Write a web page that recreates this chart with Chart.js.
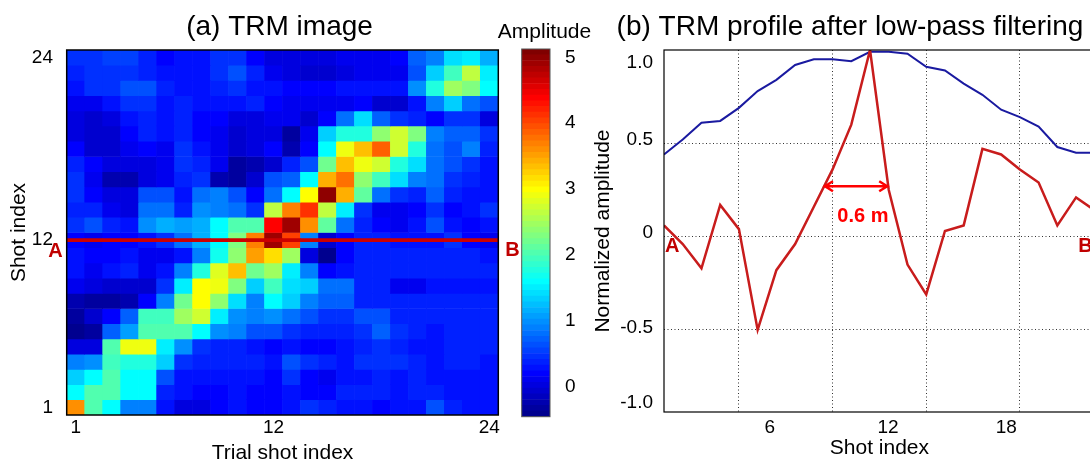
<!DOCTYPE html>
<html>
<head>
<meta charset="utf-8">
<script src="https://cdn.jsdelivr.net/npm/chart.js@4.4.1/dist/chart.umd.min.js"></script>
<style>
  html, body { margin: 0; padding: 0; background: #fff; overflow: hidden; }
  body { width: 1090px; height: 464px; position: relative; }
  canvas { position: absolute; top: 0; }
</style>
</head>
<body>
<canvas id="trm" style="left:0px" width="520" height="464"></canvas>
<canvas id="cbar" style="left:480px" width="120" height="464"></canvas>
<canvas id="profile" style="left:560px" width="600" height="464"></canvas>
<script>
// ---- (a) TRM image: trial shot (columns) x shot index (rows) ----
const trialShots = [1, 2, 3, 4, 5, 6, 7, 8, 9, 10, 11, 12, 13, 14, 15, 16, 17, 18, 19, 20, 21, 22, 23, 24];
const shotRows = [24, 23, 22, 21, 20, 19, 18, 17, 16, 15, 14, 13, 12, 11, 10, 9, 8, 7, 6, 5, 4, 3, 2, 1];
const trmTicks = [1, 12, 24];
const cutRow = 12;

// amplitude, one row per shot index, top (24) to bottom (1)
const trmImage = [
  [0.5, 0.5, 0.55, 0.55, 0.4, 0.2, 0.3, 0.3, 0.5, 0.5, 0.2, 0.0, 0.05, 0.0, 0.05, 0.1, 0.1, 0.15, 0.2, 0.7, 0.9, 1.4, 1.5, 1.2],
  [0.4, 0.5, 0.5, 0.45, 0.35, 0.3, 0.3, 0.3, 0.5, 0.6, 0.4, 0.1, 0.0, -0.05, -0.05, 0.05, 0.1, 0.1, 0.15, 0.6, 1.3, 1.9, 2.6, 1.5],
  [0.3, 0.45, 0.5, 0.6, 0.6, 0.4, 0.3, 0.3, 0.4, 0.45, 0.3, 0.3, 0.2, 0.2, 0.2, 0.25, 0.3, 0.3, 0.3, 1.0, 1.8, 2.5, 2.3, 1.6],
  [0.1, 0.15, 0.3, 0.45, 0.5, 0.3, 0.35, 0.3, 0.3, 0.3, 0.4, 0.2, 0.1, 0.1, 0.15, 0.15, 0.2, -0.05, -0.05, 0.3, 0.9, 1.3, 0.8, 0.6],
  [0.0, -0.05, 0.0, 0.3, 0.4, 0.3, 0.35, 0.2, 0.2, 0.05, 0.0, 0.1, 0.1, -0.1, 0.2, 0.8, 1.4, 0.7, 0.5, 0.4, 0.2, 0.5, 0.5, 0.0],
  [0.0, -0.1, -0.1, 0.2, 0.4, 0.3, 0.4, 0.2, 0.1, -0.1, 0.0, 0.0, -0.3, 0.1, 1.3, 1.8, 1.8, 2.4, 2.7, 2.3, 0.9, 0.7, 0.7, 0.5],
  [0.2, -0.1, -0.1, 0.1, 0.2, 0.1, 0.5, 0.3, 0.1, -0.1, 0.0, 0.2, -0.2, 0.2, 1.6, 2.9, 3.3, 3.9, 2.7, 1.8, 0.8, 0.6, 0.9, 0.4],
  [0.4, 0.2, 0.0, 0.0, 0.0, 0.1, 0.5, 0.4, 0.1, -0.3, -0.2, -0.1, 0.4, 0.6, 2.2, 3.3, 2.9, 2.7, 1.8, 1.4, 0.8, 0.6, 0.5, 0.3],
  [0.5, 0.1, -0.2, -0.2, 0.0, 0.1, 0.4, 0.5, -0.2, -0.3, -0.1, 0.6, 0.7, 1.6, 3.4, 3.8, 2.4, 1.9, 1.4, 0.9, 0.8, 0.5, 0.4, 0.3],
  [0.5, 0.2, 0.0, 0.0, 0.6, 0.6, 0.3, 0.8, 0.9, 0.6, 0.2, 0.8, 1.6, 3.0, 5.0, 3.4, 2.1, 0.8, 0.5, 0.4, 0.7, 0.4, 0.3, 0.3],
  [0.4, 0.4, 0.1, 0.0, 0.8, 0.8, 0.4, 1.0, 0.9, 0.8, 0.5, 2.6, 3.7, 4.1, 2.6, 1.5, 0.5, 0.1, 0.1, 0.2, 0.5, 0.2, 0.3, 0.5],
  [0.5, 0.6, 0.4, 0.3, 1.0, 1.2, 1.1, 1.2, 1.6, 2.0, 2.0, 4.4, 4.9, 3.6, 2.1, 0.8, 0.4, 0.2, 0.1, 0.3, 0.6, 0.3, 0.2, 0.3],
  [0.2, 0.1, 0.2, 0.2, 0.3, 0.5, 0.8, 1.2, 1.6, 2.3, 3.7, 4.9, 4.0, 0.9, -0.1, 0.2, 0.4, 0.4, 0.3, 0.3, 0.3, 0.5, 0.2, 0.1],
  [0.3, 0.2, 0.2, 0.3, 0.1, 0.1, 0.3, 0.9, 1.7, 2.4, 3.5, 3.2, 2.5, 0.0, -0.4, 0.2, 0.4, 0.4, 0.4, 0.4, 0.4, 0.4, 0.4, 0.25],
  [0.3, 0.1, 0.3, 0.4, 0.1, 0.3, 0.9, 1.8, 2.8, 3.3, 2.2, 2.5, 1.5, 0.9, 0.2, 0.3, 0.4, 0.4, 0.4, 0.4, 0.4, 0.4, 0.4, 0.35],
  [0.1, 0.0, -0.1, -0.1, -0.1, 0.5, 1.5, 3.0, 2.9, 2.3, 1.3, 1.9, 1.4, 1.3, 0.8, 0.8, 0.4, 0.4, 0.15, 0.15, 0.3, 0.3, 0.3, 0.3],
  [-0.2, -0.3, -0.3, -0.2, 0.2, 0.9, 2.2, 3.0, 2.4, 1.4, 0.9, 1.6, 1.3, 0.9, 0.7, 0.7, 0.4, 0.4, 0.4, 0.4, 0.35, 0.35, 0.35, 0.35],
  [-0.3, -0.1, 0.2, 0.7, 1.9, 1.9, 2.5, 2.7, 1.5, 1.0, 0.9, 1.0, 0.8, 0.6, 0.5, 0.5, 0.6, 0.6, 0.4, 0.4, 0.35, 0.35, 0.35, 0.35],
  [-0.4, -0.3, 0.7, 1.1, 2.0, 2.0, 2.0, 1.6, 1.0, 0.9, 0.6, 0.6, 0.5, 0.4, 0.4, 0.4, 0.5, 0.7, 0.45, 0.4, 0.3, 0.4, 0.4, 0.35],
  [0.0, 0.0, 2.0, 2.9, 2.9, 1.5, 1.0, 0.45, 0.4, 0.4, 0.3, 0.2, 0.3, 0.2, 0.2, 0.3, 0.4, 0.45, 0.4, 0.3, 0.3, 0.35, 0.35, 0.35],
  [0.9, 1.0, 1.9, 1.8, 1.8, 1.3, 0.45, 0.35, 0.35, 0.35, 0.35, 0.3, 0.6, 0.45, 0.4, 0.3, 0.45, 0.5, 0.45, 0.35, 0.3, 0.35, 0.35, 0.3],
  [1.3, 1.6, 2.0, 1.6, 1.6, 0.6, 0.3, 0.25, 0.25, 0.3, 0.3, 0.2, 0.45, 0.2, 0.1, 0.3, 0.3, 0.35, 0.3, 0.35, 0.3, 0.3, 0.3, 0.3],
  [1.6, 2.0, 2.0, 1.6, 1.6, 0.4, 0.3, 0.2, 0.2, 0.3, 0.2, 0.2, 0.3, 0.2, 0.2, 0.35, 0.35, 0.35, 0.3, 0.35, 0.35, 0.3, 0.3, 0.3],
  [3.6, 2.0, 1.6, 0.9, 0.9, 0.3, 0.05, 0.0, 0.2, 0.3, 0.2, 0.2, 0.3, 0.5, 0.35, 0.3, 0.3, 0.2, 0.3, 0.3, 0.6, 0.35, 0.3, 0.3],
];

// colour scale
const ampMin = -0.455;
const ampMax = 5.126;
const ampTicks = [0, 1, 2, 3, 4, 5];

// ---- (b) TRM profile after low-pass filtering ----
const profileShots = [1, 2, 3, 4, 5, 6, 7, 8, 9, 10, 11, 12, 13, 14, 15, 16, 17, 18, 19, 20, 21, 22, 23, 24];
const trmProfile = [0.06, -0.04, -0.17, 0.17, 0.04, -0.50, -0.18, -0.04, 0.16, 0.36, 0.60, 1.00, 0.25, -0.15, -0.31, 0.03, 0.06, 0.47, 0.44, 0.36, 0.29, 0.06, 0.21, 0.14];
const envelope = [0.44, 0.52, 0.61, 0.62, 0.69, 0.78, 0.84, 0.92, 0.95, 0.95, 0.94, 0.99, 0.99, 0.98, 0.91, 0.89, 0.82, 0.76, 0.68, 0.64, 0.59, 0.48, 0.45, 0.45];
const profileXTicks = ['6', '12', '18'];
const profileYTicks = ['-1.0', '-0.5', '0', '0.5', '1.0'];
const halfWidth = { from: 9.54, to: 12.97, level: 0.27, text: '0.6 m' };

// the printed labels sit off the dotted grid in the original
const profileGridX = [5, 10, 15, 20];
const profileGridY = [-0.5, 0, 0.5];
const profileXLabelAt = [6.65, 12.96, 19.27];
const profileYLabelAt = [-0.888, -0.486, 0.018, 0.52, 0.934];

const FONT = '"Liberation Sans", Arial, Helvetica, sans-serif';
const MARK_RED = '#c00000';
Chart.defaults.font.family = FONT;
Chart.defaults.color = '#000';

function jet(t) {
  const k = Math.min(63, Math.max(0, Math.floor(t * 64)));
  const x = (k + 1) / 64;
  const c = (v) => Math.round(255 * Math.min(1, Math.max(0, v)));
  return `rgb(${c(1.5 - Math.abs(4 * x - 3))},${c(1.5 - Math.abs(4 * x - 2))},${c(1.5 - Math.abs(4 * x - 1))})`;
}
const ampColor = (v) => jet((v - ampMin) / (ampMax - ampMin));

function framePlugin(color, width) {
  return {
    id: 'frame',
    afterDraw(chart) {
      const { ctx, chartArea: a } = chart;
      ctx.save();
      ctx.strokeStyle = color;
      ctx.lineWidth = width;
      ctx.strokeRect(a.left, a.top, a.right - a.left, a.bottom - a.top);
      ctx.restore();
    },
  };
}

function textLayer(items) {
  return {
    id: 'textLayer',
    afterDraw(chart) {
      const ctx = chart.ctx;
      items.forEach((it) => {
        const [x, y] = it.at(chart);
        ctx.save();
        ctx.font = it.font;
        ctx.fillStyle = it.color || '#000';
        ctx.textAlign = it.align || 'center';
        ctx.textBaseline = it.baseline || 'middle';
        ctx.fillText(it.text, x, y);
        ctx.restore();
      });
    },
  };
}

const common = {
  responsive: false,
  animation: false,
  events: [],
  plugins: { legend: { display: false }, tooltip: { enabled: false }, title: { display: false } },
};

// ---------- (a) heat map ----------
const heatDatasets = trmImage.map((row, i) => ({
  data: row.map(() => [shotRows[i] - 0.5, shotRows[i] + 0.5]),
  backgroundColor: row.map(ampColor),
  borderWidth: 0,
  grouped: false,
  barPercentage: 1,
  categoryPercentage: 1,
  order: 2,
}));

// the A-B cut through shot 12, drawn as a thin band across every column
heatDatasets.push({
  data: trialShots.map(() => [cutRow - 0.1, cutRow + 0.1]),
  backgroundColor: '#cc0000',
  borderWidth: 0,
  grouped: false,
  barPercentage: 1,
  categoryPercentage: 1,
  order: 0,
});

new Chart(document.getElementById('trm'), {
  type: 'bar',
  data: { labels: trialShots.map(String), datasets: heatDatasets },
  options: {
    ...common,
    layout: { padding: { top: 50, right: 21.7, left: 0, bottom: 0 } },
    scales: {
      x: {
        type: 'category',
        grid: { display: false },
        border: { display: false },
        ticks: {
          autoSkip: false,
          maxRotation: 0,
          padding: -7,
          font: { size: 19 },
          callback: (v, i) => (trmTicks.includes(trialShots[i]) ? String(trialShots[i]) : ''),
        },
        title: { display: true, text: 'Trial shot index', font: { size: 21, lineHeight: 1 }, padding: { top: 0, bottom: 0 } },
        afterFit: (a) => { a.height = 49; },
      },
      y: {
        type: 'linear',
        min: 0.5,
        max: 24.5,
        grid: { display: false },
        border: { display: false },
        afterBuildTicks: (a) => { a.ticks = trmTicks.map((v) => ({ value: v })); },
        ticks: { padding: 5.7, font: { size: 19 } },
        title: { display: true, text: 'Shot index', font: { size: 21, lineHeight: 1 }, padding: { top: 9, bottom: 0 } },
        afterFit: (a) => { a.width = 66.7; },
      },
    },
  },
  plugins: [
    framePlugin('#000', 1.5),
    textLayer([
      { text: '(a) TRM image', font: `28px ${FONT}`, baseline: 'alphabetic', at: () => [279.5, 35] },
      { text: 'A', font: `bold 20px ${FONT}`, color: MARK_RED, align: 'right',
        at: (c) => [c.chartArea.left - 4, c.scales.y.getPixelForValue(cutRow) + 11] },
      { text: 'B', font: `bold 20px ${FONT}`, color: MARK_RED, align: 'left',
        at: (c) => [c.chartArea.right + 7, c.scales.y.getPixelForValue(cutRow) + 10] },
    ]),
  ],
});

// ---------- colour bar ----------
const cbarDatasets = [];
for (let k = 0; k < 64; k++) {
  const lo = ampMin + ((ampMax - ampMin) * k) / 64;
  const hi = ampMin + ((ampMax - ampMin) * (k + 1)) / 64;
  cbarDatasets.push({
    data: [[lo, hi]],
    backgroundColor: jet((k + 0.5) / 64),
    borderWidth: 0,
    grouped: false,
    barPercentage: 1,
    categoryPercentage: 1,
  });
}

new Chart(document.getElementById('cbar'), {
  type: 'bar',
  data: { labels: [''], datasets: cbarDatasets },
  options: {
    ...common,
    layout: { padding: { top: 49, right: 0, left: 41.7, bottom: 47.3 } },
    scales: {
      x: { display: false },
      y: {
        position: 'right',
        min: ampMin,
        max: ampMax,
        grid: { display: false },
        border: { display: false },
        afterBuildTicks: (a) => { a.ticks = ampTicks.map((v) => ({ value: v })); },
        ticks: { padding: 7, font: { size: 19 } },
        afterFit: (a) => { a.width = 50; },
      },
    },
  },
  plugins: [
    framePlugin('#555', 1),
    textLayer([
      { text: 'Amplitude', font: `21px ${FONT}`, baseline: 'alphabetic', at: () => [64.5, 38] },
    ]),
  ],
});

// ---------- (b) profile ----------
const arrowPlugin = {
  id: 'halfWidth',
  afterDatasetsDraw(chart) {
    const { ctx, scales: { x, y } } = chart;
    const x0 = x.getPixelForValue(halfWidth.from);
    const x1 = x.getPixelForValue(halfWidth.to);
    const yy = y.getPixelForValue(halfWidth.level);
    ctx.save();
    ctx.strokeStyle = '#ff0000';
    ctx.lineWidth = 2.5;
    ctx.beginPath();
    ctx.moveTo(x0, yy);
    ctx.lineTo(x1, yy);
    ctx.moveTo(x0 + 9, yy - 5);
    ctx.lineTo(x0 + 1, yy);
    ctx.lineTo(x0 + 9, yy + 5);
    ctx.moveTo(x1 - 9, yy - 5);
    ctx.lineTo(x1 - 1, yy);
    ctx.lineTo(x1 - 9, yy + 5);
    ctx.stroke();
    ctx.restore();
  },
};

const dotted = { color: '#333', lineWidth: 1, drawTicks: false };

new Chart(document.getElementById('profile'), {
  type: 'line',
  data: {
    datasets: [
      {
        label: 'TRM profile',
        data: profileShots.map((s, i) => ({ x: s, y: trmProfile[i] })),
        borderColor: '#c81c1c',
        borderWidth: 2.5,
        pointRadius: 0,
        tension: 0,
      },
      {
        label: 'Envelope',
        data: profileShots.map((s, i) => ({ x: s, y: envelope[i] })),
        borderColor: '#1a1aa0',
        borderWidth: 2,
        pointRadius: 0,
        tension: 0,
      },
    ],
  },
  options: {
    ...common,
    layout: { padding: { top: 50, right: 65.2, left: 0, bottom: 0 } },
    scales: {
      x: {
        type: 'linear',
        min: 1,
        max: 24,
        afterBuildTicks: (a) => { a.ticks = profileGridX.map((v) => ({ value: v })); },
        ticks: { display: false },
        grid: dotted,
        border: { display: false, dash: [1, 2.5] },
        afterFit: (a) => { a.height = 0; },
      },
      xl: {
        type: 'linear',
        position: 'bottom',
        min: 1,
        max: 24,
        afterBuildTicks: (a) => { a.ticks = profileXLabelAt.map((v) => ({ value: v })); },
        ticks: { autoSkip: false, maxRotation: 0, padding: -3.5, font: { size: 19 }, callback: (v, i) => profileXTicks[i] },
        grid: { display: false },
        border: { display: false },
        title: { display: true, text: 'Shot index', font: { size: 21, lineHeight: 1 }, padding: { top: 0, bottom: 5 } },
        afterFit: (a) => { a.height = 52; },
      },
      y: {
        type: 'linear',
        min: -0.94,
        max: 1.0,
        afterBuildTicks: (a) => { a.ticks = profileGridY.map((v) => ({ value: v })); },
        ticks: { display: false },
        grid: dotted,
        border: { display: false, dash: [1, 2.5] },
        afterFit: (a) => { a.width = 0; },
      },
      yl: {
        type: 'linear',
        position: 'left',
        min: -0.94,
        max: 1.0,
        afterBuildTicks: (a) => { a.ticks = profileYLabelAt.map((v) => ({ value: v })); },
        ticks: { padding: 3, font: { size: 19 }, callback: (v, i) => profileYTicks[i] },
        grid: { display: false },
        border: { display: false },
        title: { display: true, text: 'Normalized amplitude', font: { size: 21, lineHeight: 1 }, padding: { top: 33, bottom: 0 } },
        afterFit: (a) => { a.width = 104; },
      },
    },
  },
  plugins: [
    framePlugin('#000', 1.2),
    arrowPlugin,
    textLayer([
      { text: '(b) TRM profile after low-pass filtering', font: `28px ${FONT}`, baseline: 'alphabetic', at: () => [290, 35] },
      { text: halfWidth.text, font: `bold 20px ${FONT}`, color: '#ff0000',
        at: (c) => [c.scales.x.getPixelForValue(11.62), c.scales.y.getPixelForValue(0.107)] },
      { text: 'A', font: `bold 20px ${FONT}`, color: MARK_RED, align: 'left',
        at: (c) => [c.scales.x.getPixelForValue(1) + 1, c.scales.y.getPixelForValue(-0.052)] },
      { text: 'B', font: `bold 20px ${FONT}`, color: MARK_RED, align: 'left',
        at: (c) => [c.scales.x.getPixelForValue(23.12), c.scales.y.getPixelForValue(-0.055)] },
    ]),
  ],
});
</script>
</body>
</html>
